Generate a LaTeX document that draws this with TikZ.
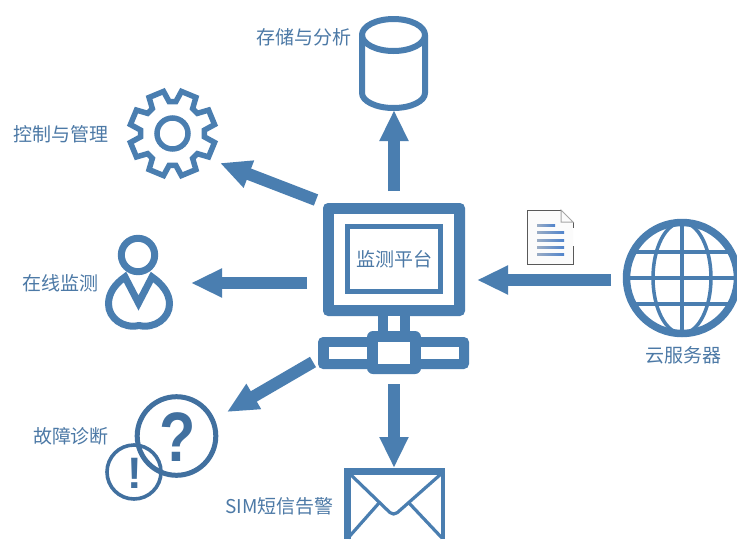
\documentclass[tikz,border=0pt]{standalone}
\usepackage{fontspec}
\newfontfamily\cjk{Noto Sans CJK SC}
\newfontfamily\latinb{Liberation Sans}
\usetikzlibrary{arrows.meta}
\definecolor{icon}{HTML}{4A7EB0}
\definecolor{qcol}{HTML}{41709F}
\definecolor{txt}{HTML}{4C79A6}
\definecolor{docleft}{HTML}{9AACC4}
\definecolor{docright}{HTML}{4F83CC}
\tikzset{
  x=1pt,y=-1pt,
  flow/.style={draw=icon,line width=12pt,-{Triangle[length=31pt,width=27pt]}},
  lab/.style={text=txt,font=\cjk\fontsize{19}{19}\selectfont,inner sep=0pt,anchor=center},
  heavy/.style={draw=icon,line join=round,line cap=round},
}
\begin{document}
\begin{tikzpicture}
\clip (0,0) rectangle (737,539);
\fill[white] (0,0) rectangle (737,539);

% monitor
\fill[icon,rounded corners=5pt] (323,203) rectangle (465,316);
\fill[white] (334,214) rectangle (454,305);
\draw[icon,line width=5pt] (347.5,226.5) rectangle (440.5,291.5);
\node[lab] (platform) at (394,259) {监测平台};
% stem and switch
\fill[icon] (378,312) rectangle (410,336);
\fill[white] (388,316) rectangle (400,332);
\fill[icon,rounded corners=5pt] (318,337) rectangle (469,369);
\fill[icon,rounded corners=6pt] (367,331) rectangle (421,374);
\fill[white] (329,347) rectangle (367,359);
\fill[white] (421,347) rectangle (459,359);
\fill[white] (378,342) rectangle (410,364);

% cylinder
\draw[heavy,line width=6pt] (362,35) -- (362,93) arc[start angle=180,end angle=360,x radius=31.5,y radius=-15] -- (425,35);
\draw[heavy,line width=6pt] (393.5,35) ellipse[x radius=31.5,y radius=16];

% gear
\begin{scope}[shift={(172.5,133.5)}]
\draw[heavy,line width=5.5pt,line cap=butt,line join=miter]
  (6.0:32)
  \foreach \a in {22.5,67.5,...,337.5}{
    -- ({\a-16.5}:32) -- ({\a-10.5}:43) -- ({\a+10.5}:43) -- ({\a+16.5}:32)
  } -- cycle;
\draw[icon,line width=5.5pt] (0,0) circle[radius=15.5];
\end{scope}

% person
\draw[heavy,line width=7pt] (138,255) circle[radius=16.7];
\draw[heavy,line width=7pt,line join=miter]
  (125,277) -- (138.5,303) -- (152,277)
  .. controls (162,284) and (169.5,293) .. (169.5,304)
  .. controls (169.5,318) and (155,329) .. (139,325.5)
  .. controls (123,329) and (108.5,318) .. (108.5,304)
  .. controls (108.5,293) and (115,284) .. (125,277) -- cycle;

% question and exclamation
\draw[qcol,line width=5pt] (176.5,436) circle[radius=39.3];
\draw[qcol,line width=3.6pt] (134,472) circle[radius=27];
\node[inner sep=0pt,text=qcol,xscale=0.85,font=\latinb\bfseries\fontsize{70}{70}\selectfont] (qmark) at (178,437) {?};
\node[inner sep=0pt,text=qcol,font=\latinb\bfseries\fontsize{44}{44}\selectfont] (emark) at (135,473) {!};

% envelope
\fill[icon] (344,468) rectangle (445,475);
\fill[icon] (344,468) rectangle (351,539);
\fill[icon] (441,468) rectangle (445,539);
\draw[icon,line width=3.2pt,rounded corners=5pt] (350,474) -- (393.5,516) -- (441,474);
\draw[icon,line width=3.2pt] (379,503) -- (348,538);
\draw[icon,line width=3.2pt] (409,503) -- (442,538);

% globe
\draw[icon,line width=7.5pt] (682,278) circle[radius=55.5];
\draw[icon,line width=3.5pt] (682,278) ellipse[x radius=29,y radius=55.5];
\draw[icon,line width=3.5pt] (682,222) -- (682,334);
\draw[icon,line width=3.5pt] (626,278) -- (738,278);
\draw[icon,line width=3.5pt] (634,252) -- (730,252);
\draw[icon,line width=3.5pt] (634,304) -- (730,304);

% document
\fill[white!97!gray] (527,210) -- (561,210) -- (573,222) -- (573,264) -- (527,264) -- cycle;
\draw[black!65,line width=1pt] (573,222) -- (573,228);
\draw[black!65,line width=1pt] (573,246) -- (573,264) -- (527,264) -- (527,210) -- (561,210);
\draw[black!35,line width=1pt] (561,210) -- (573,222) -- (561,222) -- cycle;
\foreach \y/\e in {225/555,232/564,240/564,247/564,254/564}{
  \shade[left color=docleft,right color=docright] (537,\y-1) rectangle (\e,\y+1);
}

% connector end points
\coordinate (upA) at (394,191);
\coordinate (upB) at (394,110);
\coordinate (gearA) at (316,200);
\coordinate (gearB) at (220,163);
\coordinate (userA) at (307,283);
\coordinate (userB) at (191,283);
\coordinate (faultA) at (313,362);
\coordinate (faultB) at (227,412);
\coordinate (mailA) at (394,384);
\coordinate (mailB) at (394,468);
\coordinate (cloudA) at (611,280);
\coordinate (cloudB) at (477,280);
\draw[flow] (upA) -- (upB);
\draw[flow] (gearA) -- (gearB);
\draw[flow] (userA) -- (userB);
\draw[flow] (faultA) -- (faultB);
\draw[flow] (mailA) -- (mailB);
\draw[flow] (cloudA) -- (cloudB);

% labels
\node[lab] (store) at (303.5,37) {存储与分析};
\node[lab] (ctrl) at (60.5,134) {控制与管理};
\node[lab] (online) at (61,283) {在线监测};
\node[lab] (cloud) at (683.5,355) {云服务器};
\node[lab] (diag) at (71,436) {故障诊断};
\node[lab] (sms) at (279.5,506) {SIM短信告警};
\end{tikzpicture}
\end{document}
